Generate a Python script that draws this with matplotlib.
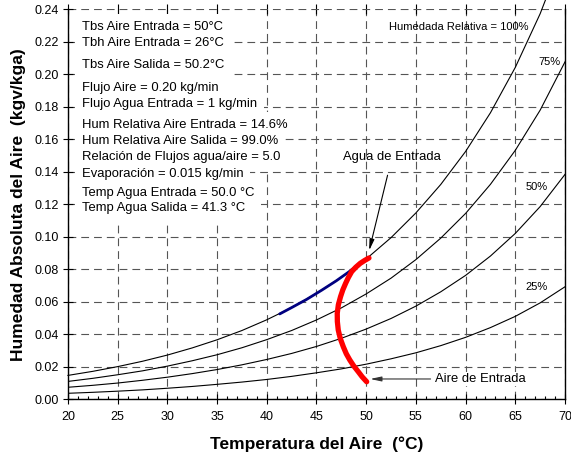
import matplotlib
matplotlib.use("Agg")
import matplotlib.pyplot as plt
from matplotlib.ticker import MultipleLocator

plt.rcParams["font.family"] = "Liberation Sans"
plt.rcParams["font.size"] = 9

# Curvas de humedad relativa (T en °C, W en kgv/kga)
temps = [20, 22.5, 25, 27.5, 30, 32.5, 35, 37.5, 40, 42.5, 45, 47.5,
         50, 52.5, 55, 57.5, 60, 62.5, 65, 67.5, 70]
w_100 = [0.0147, 0.0172, 0.0201, 0.0234, 0.0272, 0.0316, 0.0366, 0.0423,
         0.0489, 0.0564, 0.0651, 0.0750, 0.0863, 0.0994, 0.1146, 0.1321,
         0.1524, 0.1762, 0.2041, 0.2371, 0.2766]
w_75 = [0.0110, 0.0129, 0.0151, 0.0175, 0.0204, 0.0237, 0.0274, 0.0317,
        0.0367, 0.0423, 0.0488, 0.0562, 0.0648, 0.0745, 0.0859, 0.0991,
        0.1143, 0.1322, 0.1531, 0.1778, 0.2075]
w_50 = [0.0074, 0.0086, 0.0100, 0.0117, 0.0136, 0.0158, 0.0183, 0.0212,
        0.0245, 0.0282, 0.0325, 0.0375, 0.0432, 0.0497, 0.0573, 0.0661,
        0.0762, 0.0881, 0.1020, 0.1185, 0.1383]
w_25 = [0.0037, 0.0043, 0.0050, 0.0058, 0.0068, 0.0079, 0.0092, 0.0106,
        0.0122, 0.0141, 0.0163, 0.0187, 0.0216, 0.0249, 0.0286, 0.0330,
        0.0381, 0.0441, 0.0510, 0.0593, 0.0692]

# Trayectoria del aire (rojo) y del agua (azul)
air_t = [50.05, 49.6, 49.2, 48.75, 48.35, 48.0, 47.7, 47.4, 47.19, 47.1,
         47.09, 47.2, 47.42, 47.65, 47.93, 48.2, 48.54, 48.95, 49.4, 49.85,
         50.28]
air_w = [0.0108, 0.0138, 0.0170, 0.0205, 0.0242, 0.0280, 0.0323, 0.0373,
         0.0426, 0.0478, 0.0529, 0.0581, 0.0631, 0.0673, 0.0713, 0.0748,
         0.0785, 0.0812, 0.0836, 0.0854, 0.0869]
water_t = [41.3, 42.5, 44.0, 45.5, 47.0, 48.2, 49.3]
water_w = [0.0525, 0.0564, 0.0614, 0.0670, 0.0729, 0.0781, 0.0832]

info_lines = ["Tbs Aire Entrada = 50°C", "Tbh Aire Entrada = 26°C",
              "Tbs Aire Salida = 50.2°C", "Flujo Aire = 0.20 kg/min",
              "Flujo Agua Entrada = 1 kg/min",
              "Hum Relativa Aire Entrada = 14.6%",
              "Hum Relativa Aire Salida = 99.0%",
              "Relación de Flujos agua/aire = 5.0",
              "Evaporación = 0.015 kg/min",
              "Temp Agua Entrada = 50.0 °C", "Temp Agua Salida = 41.3 °C"]
info_y = [0.2292, 0.2189, 0.2056, 0.1913, 0.1816, 0.1687, 0.1587, 0.1488,
          0.1386, 0.1271, 0.1175]

fig = plt.figure(figsize=(5.71, 4.55), dpi=100)
ax = fig.add_axes([0.119, 0.1224, 0.8705, 0.8578])

ax.set_xlim(20, 70)
ax.set_ylim(0, 0.24)
ax.xaxis.set_major_locator(MultipleLocator(5))
ax.xaxis.set_minor_locator(MultipleLocator(1))
ax.yaxis.set_major_locator(MultipleLocator(0.02))
ax.yaxis.set_major_formatter(matplotlib.ticker.FormatStrFormatter("%.2f"))

ax.grid(True, which="major", color="#555555", linewidth=0.8,
        linestyle=(0, (7, 4.5)))
ax.set_axisbelow(True)
ax.spines["top"].set_visible(False)
for s in ["left", "bottom", "right"]:
    ax.spines[s].set_linewidth(1.0)

ax.tick_params(axis="x", which="major", direction="inout", length=6.5,
               width=0.8, top=True, labelsize=9, pad=5)
ax.tick_params(axis="x", which="minor", direction="in", length=2.5,
               width=0.8, top=False)
ax.tick_params(axis="y", which="major", direction="inout", length=6.5,
               width=0.8, labelsize=9)

for w in [w_100, w_75, w_50, w_25]:
    ax.plot(temps, w, color="black", linewidth=0.8, clip_on=(w is not w_100))

ax.plot(water_t, water_w, color="#000080", linewidth=2.0,
        solid_capstyle="round")
ax.plot(air_t, air_w, color="#ff0000", linewidth=3.8,
        solid_capstyle="round")

# white backgrounds first, then the text on top of all of them
white = dict(facecolor="white", edgecolor="none", pad=5)
for txt, y in zip(info_lines, info_y):
    ax.text(21.4, y, txt, fontsize=9.4, va="center", ha="left", bbox=white,
            color="white", zorder=2.5)
for txt, y in zip(info_lines, info_y):
    ax.text(21.4, y, txt, fontsize=9.4, va="center", ha="left", zorder=3)

ax.text(66.3, 0.2292, "Humedada Relativa = 100%", fontsize=8,
        ha="right", va="center")
ax.text(69.5, 0.2075, "75%", fontsize=8, ha="right", va="center")
ax.text(68.3, 0.1307, "50%", fontsize=8, ha="right", va="center")
ax.text(68.3, 0.0690, "25%", fontsize=8, ha="right", va="center")

ax.annotate("Agua de Entrada", xy=(50.3, 0.0915), xytext=(52.6, 0.149),
            ha="center", va="center", fontsize=9.4,
            arrowprops=dict(arrowstyle="-|>,head_length=0.7,head_width=0.15",
                            color="black", linewidth=0.8,
                            shrinkA=7, shrinkB=0))
ax.annotate("Aire de Entrada", xy=(50.4, 0.0125), xytext=(56.9, 0.0125),
            ha="left", va="center", fontsize=9.4,
            bbox=dict(facecolor="white", edgecolor="none", pad=1),
            arrowprops=dict(arrowstyle="-|>,head_length=0.7,head_width=0.15",
                            color="#333333", linewidth=0.8,
                            shrinkA=2, shrinkB=0))

ax.set_xlabel("Temperatura del Aire  (°C)", fontsize=12.5,
              fontweight="bold", labelpad=10)
ax.set_ylabel("Humedad Absoluta del Aire  (kgv/kga)", fontsize=12.5,
              fontweight="bold", labelpad=6)

fig.savefig("out.png", dpi=100)
